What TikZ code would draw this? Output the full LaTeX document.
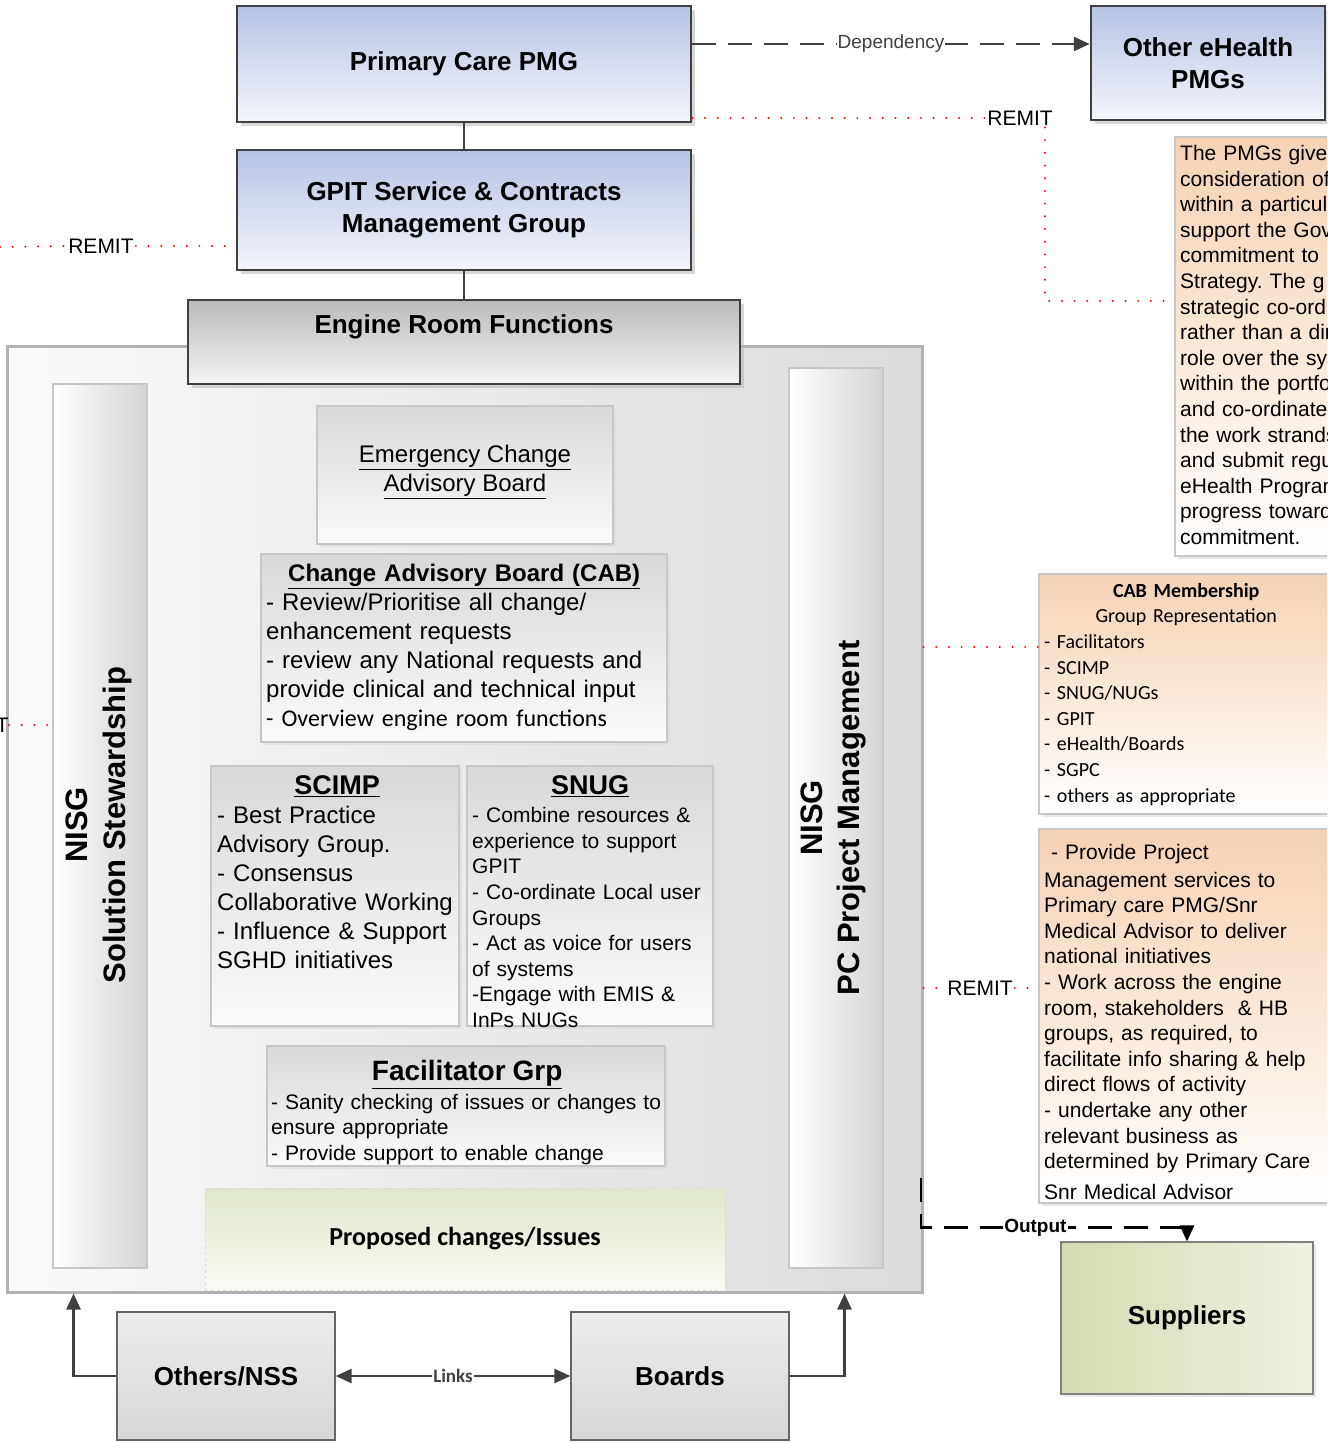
\documentclass[tikz,border=0pt]{standalone}
\usepackage{fontspec}
\setmainfont{Liberation Sans}
\newfontfamily\calib{Carlito}
\usetikzlibrary{arrows.meta, shadows}
\frenchspacing

\definecolor{pmgtop}{HTML}{B7C3E3}
\definecolor{pmgbot}{HTML}{F4F6FC}
\definecolor{engtop}{HTML}{BBBBBB}
\definecolor{engbot}{HTML}{F4F4F4}
\definecolor{grytop}{HTML}{D8D8D8}
\definecolor{grybot}{HTML}{FBFBFB}
\definecolor{peachtop}{HTML}{F5D2B3}
\definecolor{greentop}{HTML}{E0E8CC}
\definecolor{greenbot}{HTML}{FAFBF4}
\definecolor{supleft}{HTML}{D3DCB2}
\definecolor{supright}{HTML}{EEF2E2}
\definecolor{linegray}{HTML}{404040}

\tikzset{
  pmgbox/.style={draw=linegray, line width=2.5pt, top color=pmgtop, bottom color=pmgbot, inner sep=0pt, align=center,
    font=\fontsize{26}{32}\selectfont\bfseries,
    drop shadow={shadow xshift=4pt, shadow yshift=-4pt, fill=black!30, opacity=.5}},
  enginebox/.style={draw=linegray, line width=2.5pt, top color=engtop, bottom color=engbot, inner sep=0pt,
    drop shadow={shadow xshift=4pt, shadow yshift=-4pt, fill=black!30, opacity=.5}},
  holder/.style={draw=black!30, line width=3pt, left color=white!98!black, right color=white!86!black, inner sep=0pt},
  colbox/.style={draw=black!22, line width=2pt, left color=white, right color=black!17, inner sep=0pt},
  subbox/.style={draw=black!22, line width=1.5pt, top color=grytop, bottom color=grybot, inner sep=0pt,
    drop shadow={shadow xshift=3pt, shadow yshift=-3pt, fill=black!15, opacity=.6}},
  notebox/.style={draw=black!22, line width=1.5pt, top color=peachtop, bottom color=white, inner sep=0pt,
    drop shadow={shadow xshift=3pt, shadow yshift=-3pt, fill=black!15, opacity=.6}},
  feedbox/.style={draw=black!60, line width=1.2pt, top color=white!93!black, bottom color=white!84!black, inner sep=0pt,
    font=\fontsize{26}{30}\selectfont\bfseries},
  bodytxt/.style={anchor=north west, inner sep=0pt, align=left},
  remitline/.style={red, line width=2.2pt, line cap=round, dash pattern=on 0pt off 12.7pt},
  remitlbl/.style={font=\fontsize{21}{25}\selectfont, inner sep=2pt},
  flowline/.style={linegray, line width=2.5pt, -{Triangle[length=16pt,width=14pt]}},
  depflow/.style={flowline, dash pattern=on 24pt off 12pt},
}

\begin{document}
\begin{tikzpicture}[x=1pt, y=-1pt]
\useasboundingbox (0,0) rectangle (1327,1442);
\clip (0,0) rectangle (1327,1442);

% engine room frame
\node[holder, minimum width=915pt, minimum height=946pt] (holder) at (464.5,819) {};
\node[colbox, minimum width=94pt, minimum height=884pt] (nisgl) at (100,826) {};
\node[colbox, minimum width=94pt, minimum height=900pt] (nisgr) at (836,818) {};
\node[rotate=90, align=center, font=\fontsize{31}{38}\selectfont\bfseries] (nisgltxt) at (99,825) {NISG\\Solution Stewardship};
\node[rotate=90, align=center, font=\fontsize{31}{37}\selectfont\bfseries] (nisgrtxt) at (833.5,818) {NISG\\PC Project Management};

% management groups
\node[pmgbox, minimum width=454pt, minimum height=116pt] (pcpmg) at (464,64) {Primary Care PMG};
\node[pmgbox, minimum width=234pt, minimum height=114pt] (otherpmg) at (1208,63) {Other eHealth\\PMGs};
\node[pmgbox, minimum width=454pt, minimum height=120pt] (gpit) at (464,210) {GPIT Service \& Contracts\\Management Group};
\node[enginebox, minimum width=552pt, minimum height=84pt] (engine) at (464,342) {};
\node[font=\fontsize{26}{30}\selectfont\bfseries] (enginetxt) at (464,327) {Engine Room Functions};
\draw[linegray, line width=2.5pt] (pcpmg) -- (gpit) -- (engine);

% boards inside the engine room
\node[subbox, minimum width=296pt, minimum height=138pt] (ecab) at (465,475) {};
\node[align=center, font=\fontsize{24}{29}\selectfont] (ecabtxt) at (465,472) {\underline{Emergency Change}\\\underline{Advisory Board}};

\node[subbox, minimum width=406pt, minimum height=188pt] (cab) at (464,648) {};
\node[bodytxt, text width=396pt, font=\fontsize{24}{29}\selectfont] (cabtxt) at (266,564) {%
  {\centering\bfseries\underline{Change Advisory Board (CAB)}\par}
  - Review/Prioritise all change/\\enhancement requests\\- review any National requests and\\provide clinical and technical input\\
  {\calib - Overview engine room functions}};

\node[subbox, minimum width=248pt, minimum height=260pt] (scimp) at (335,896) {};
\node[bodytxt, text width=240pt, font=\fontsize{24}{29}\selectfont] (scimptxt) at (217,775) {%
  {\centering\fontsize{27}{31}\selectfont\bfseries\underline{SCIMP}\par}
  - Best Practice\\Advisory Group.\\- Consensus\\Collaborative Working\\- Influence \& Support\\SGHD initiatives};

\node[subbox, minimum width=246pt, minimum height=260pt] (snug) at (590,896) {};
\node[bodytxt, text width=236pt, font=\fontsize{21}{25.6}\selectfont] (snugtxt) at (472,775) {%
  {\centering\fontsize{27}{31}\selectfont\bfseries\underline{SNUG}\par}\vspace{3pt}
  - Combine resources \&\\experience to support\\GPIT\\- Co-ordinate Local user\\Groups\\- Act as voice for users\\of systems\\-Engage with EMIS \&\\InPs NUGs};

\node[subbox, minimum width=398pt, minimum height=120pt] (facil) at (466,1106) {};
\node[bodytxt, text width=392pt, font=\fontsize{21}{25.6}\selectfont] (faciltxt) at (271,1060) {%
  {\centering\fontsize{28}{32}\selectfont\bfseries\underline{Facilitator Grp}\par}\vspace{3pt}
  - Sanity checking of issues or changes to\\ensure appropriate\\- Provide support to enable change};

\node[draw=greentop!70!black!40, dashed, line width=1pt, top color=greentop, bottom color=greenbot, inner sep=0pt,
  minimum width=520pt, minimum height=102pt, font=\calib\fontsize{26}{30}\selectfont\bfseries] (proposed) at (465,1239) {Proposed changes/Issues};

% outside groups
\node[feedbox, minimum width=218pt, minimum height=128pt] (others) at (226,1376) {Others/NSS};
\node[feedbox, minimum width=218pt, minimum height=128pt] (boards) at (680,1376) {Boards};
\draw[flowline, {Triangle[length=16pt,width=14pt]}-{Triangle[length=16pt,width=14pt]}] (others) --
  node[fill=white, inner sep=1pt, font=\calib\fontsize{19}{22}\selectfont\bfseries] (linkslbl) {Links} (boards);
\draw[flowline] (others.west) -| ([xshift=68pt]holder.south west);
\draw[flowline] (boards.east) -| ([xshift=-79pt]holder.south east);

\node[draw=black!50, line width=1.2pt, left color=supleft, right color=supright, inner sep=0pt,
  minimum width=252pt, minimum height=152pt, font=\fontsize{26}{30}\selectfont\bfseries,
  drop shadow={shadow xshift=3pt, shadow yshift=-3pt, fill=black!15, opacity=.6}] (suppl) at (1187,1318) {Suppliers};
\coordinate (outstart) at (921,1178);
\draw[depflow, black] (outstart) |- node[pos=.715, fill=white, inner sep=1pt, font=\fontsize{19}{22}\selectfont\bfseries] (outlbl) {Output}
  ([yshift=14pt]suppl.north) -- (suppl.north);

% notes on the right
\node[notebox, minimum width=165pt, minimum height=419pt] (pmgnote) at (1257.5,346.5) {};
\node[bodytxt, text width=200pt, font=\fontsize{21}{25.6}\selectfont] (pmgnotetxt) at (1180,145) {%
  The PMGs give\\consideration of\\within a particul\\support the Gov\\commitment to\\Strategy. The g\\strategic co-ord\\rather than a dir\\role over the sys\\within the portfo\\and co-ordinate\\the work strands\\and submit regu\\eHealth Program\\progress toward\\commitment.};

\node[notebox, minimum width=294pt, minimum height=240pt] (cabmem) at (1186,694) {};
\node[bodytxt, text width=284pt, font=\calib\fontsize{20}{25.6}\selectfont] (cabmemtxt) at (1044,583) {%
  {\centering\bfseries CAB Membership\par}
  {\centering Group Representation\par}
  - Facilitators\\- SCIMP\\- SNUG/NUGs\\- GPIT\\- eHealth/Boards\\- SGPC\\- others as appropriate};

\node[notebox, minimum width=294pt, minimum height=374pt] (pmnote) at (1186,1016) {};
\node[bodytxt, text width=284pt, font=\fontsize{21}{25.6}\selectfont] (pmnotetxt) at (1044,844) {%
  \hspace*{7pt}- Provide Project\\[2pt]Management services to\\Primary care PMG/Snr\\Medical Advisor to deliver\\national initiatives\\- Work across the engine\\room, stakeholders~~\& HB\\groups, as required, to\\facilitate info sharing \& help\\direct flows of activity\\- undertake any other\\relevant business as\\determined by Primary Care\\[5pt]Snr Medical Advisor};

% dependency and remit links
\draw[depflow] ([yshift=20pt]pcpmg.east) --
  node[fill=white, inner sep=1pt, font=\fontsize{19}{22}\selectfont] (deplbl) {Dependency} ([yshift=19pt]otherpmg.west);

\node[remitlbl] (remtop) at (1020,118) {REMIT};
\draw[remitline] ([yshift=-54pt]pcpmg.east) -- (remtop.west);
\coordinate (rembend) at (1045,301);
\draw[remitline] (remtop.south -| rembend) -- (rembend) -- (rembend -| pmgnote.west);

\node[remitlbl] (remgpit) at (101,246) {REMIT};
\coordinate (remgpitend) at (0,247);
\draw[remitline] (remgpitend) -- (remgpit.west);
\draw[remitline] (remgpit.east) -- (remgpit.east -| gpit.west);

\node[remitlbl, anchor=east, inner sep=0pt] (remleft) at (9,725) {REMIT};
\draw[remitline] (remleft.east) -- (remleft.east -| nisgl.west);

\coordinate (cabdot) at ([yshift=47pt]cabmem.west);
\draw[remitline] (cabdot -| holder.east) -- (cabdot);

\node[remitlbl] (rempm) at (980,988) {REMIT};
\draw[remitline] (rempm.west -| holder.east) -- (rempm.west);
\draw[remitline] (rempm.east) -- (rempm.east -| pmnote.west);
\end{tikzpicture}
\end{document}
